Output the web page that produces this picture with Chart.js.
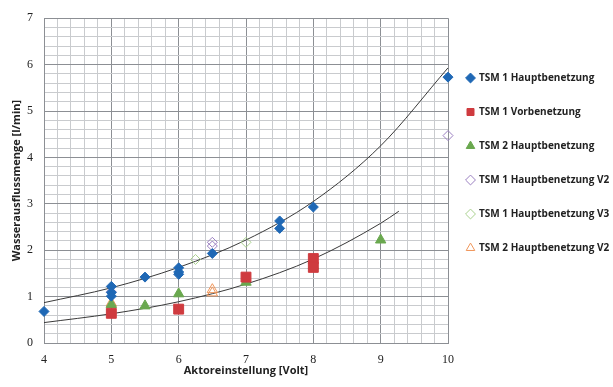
<!DOCTYPE html>
<html>
<head>
<meta charset="utf-8">
<script src="https://cdn.jsdelivr.net/npm/chart.js@4.4.1/dist/chart.umd.min.js"></script>
<style>
  html, body { margin: 0; padding: 0; background: #fff; }
  #wrap { width: 613px; height: 387px; }
</style>
</head>
<body>
<div id="wrap"><canvas id="chart"></canvas></div>
<script>

    // Messwerte (Volt, l/min)
    var tsm1_haupt = [
        {x: 4, y: 0.68}, {x: 5, y: 1.22}, {x: 5, y: 1.09}, {x: 5, y: 1.01},
        {x: 5.5, y: 1.42}, {x: 6, y: 1.62}, {x: 6, y: 1.53}, {x: 6, y: 1.48},
        {x: 6.5, y: 1.93}, {x: 7.5, y: 2.63}, {x: 7.5, y: 2.47}, {x: 8, y: 2.93},
        {x: 10, y: 5.73}
    ];
    var tsm1_vor = [
        {x: 5, y: 0.64}, {x: 6, y: 0.73}, {x: 7, y: 1.42}, {x: 8, y: 1.82}, {x: 8, y: 1.63}
    ];
    var tsm2_haupt = [
        {x: 5, y: 0.83}, {x: 5.5, y: 0.80}, {x: 6, y: 1.06}, {x: 7, y: 1.31},
        {x: 8, y: 1.66}, {x: 9, y: 2.22}
    ];
    var tsm1_haupt_v2 = [
        {x: 5, y: 1.10}, {x: 6.5, y: 2.17}, {x: 6.5, y: 2.09}, {x: 10, y: 4.47}
    ];
    var tsm1_haupt_v3 = [
        {x: 6.25, y: 1.80}, {x: 7, y: 2.17}
    ];
    var tsm2_haupt_v2 = [
        {x: 5, y: 0.86}, {x: 6.5, y: 1.15}, {x: 6.5, y: 1.08}
    ];

    // Trendlinien (exponentiell)
    var trend_oben = [
        {x: 4, y: 0.87}, {x: 5, y: 1.19}, {x: 6, y: 1.63}, {x: 7, y: 2.22},
        {x: 8, y: 3.05}, {x: 9, y: 4.25}, {x: 10, y: 5.93}
    ];
    var trend_unten = [
        {x: 4, y: 0.44}, {x: 5, y: 0.63}, {x: 6, y: 0.89}, {x: 7, y: 1.27},
        {x: 8, y: 1.81}, {x: 9, y: 2.58}, {x: 9.27, y: 2.84}
    ];

    var BLUE = '#1f68b5', RED = '#cf3b3f', GREEN = '#6aa84f',
        PURPLE = '#9a7fc0', LGREEN = '#a9d18e', ORANGE = '#f0965a';

    function isMajor(v) { return Math.abs(v - Math.round(v)) < 1e-6; }

    var config = {
     type: 'scatter',
     data: {
        datasets: [
            { label: 'TSM 1 Hauptbenetzung', data: tsm1_haupt, pointStyle: 'rectRot', clip: false,
              pointRadius: 5, backgroundColor: BLUE, borderColor: BLUE, borderWidth: 1 },
            { label: 'TSM 1 Vorbenetzung', data: tsm1_vor, pointStyle: 'rect', clip: false,
              pointRadius: 7, backgroundColor: RED, borderColor: RED, borderWidth: 1 },
            { label: 'TSM 2 Hauptbenetzung', data: tsm2_haupt, pointStyle: 'triangle', clip: false,
              pointRadius: 6, backgroundColor: GREEN, borderColor: GREEN, borderWidth: 1 },
            { label: 'TSM 1 Hauptbenetzung V2', data: tsm1_haupt_v2, pointStyle: 'rectRot', clip: false,
              pointRadius: 5, backgroundColor: 'rgba(0,0,0,0)', borderColor: PURPLE, borderWidth: 1 },
            { label: 'TSM 1 Hauptbenetzung V3', data: tsm1_haupt_v3, pointStyle: 'rectRot', clip: false,
              pointRadius: 5, backgroundColor: 'rgba(0,0,0,0)', borderColor: LGREEN, borderWidth: 1 },
            { label: 'TSM 2 Hauptbenetzung V2', data: tsm2_haupt_v2, pointStyle: 'triangle', clip: false,
              pointRadius: 6, backgroundColor: 'rgba(0,0,0,0)', borderColor: ORANGE, borderWidth: 1 },
            { label: 'trend1', data: trend_oben, type: 'line', showLine: true,
              borderColor: '#3a3a3a', borderWidth: 1, pointRadius: 0, tension: 0.4,
              cubicInterpolationMode: 'monotone', fill: false },
            { label: 'trend2', data: trend_unten, type: 'line', showLine: true,
              borderColor: '#3a3a3a', borderWidth: 1, pointRadius: 0, tension: 0.4,
              cubicInterpolationMode: 'monotone', fill: false }
        ]
        },
        options: {
            responsive: true,
            maintainAspectRatio: false,
            animation: false,
            layout: { padding: { top: 17, left: 0, right: 0, bottom: 0 } },
            scales: {
                x: {
                    type: 'linear', min: 4, max: 10,
                    afterFit: function(scale) { scale.height = 44; },
                    ticks: {
                        stepSize: 0.2, autoSkip: false, maxRotation: 0, padding: 10,
                        color: '#222', font: { family: 'Liberation Serif', size: 12 },
                        callback: function(v) { return isMajor(v) ? Math.round(v) : ''; }
                    },
                    grid: {
                        drawTicks: false,
                        color: function(c) { return isMajor(c.tick.value) ? '#8c8f94' : '#c9cbce'; },
                        lineWidth: 1
                    },
                    border: { color: '#8c8f94' },
                    title: {
                        display: true, text: 'Aktoreinstellung [Volt]', color: '#222',
                        font: { family: 'Open Sans', size: 11, weight: 'bold' }, padding: { top: 0, bottom: 10 }
                    }
                },
                y: {
                    min: 0, max: 7,
                    afterFit: function(scale) { scale.width = 44; },
                    ticks: {
                        stepSize: 0.2, autoSkip: false, padding: 11,
                        color: '#222', font: { family: 'Liberation Serif', size: 12 },
                        callback: function(v) { return isMajor(v) ? Math.round(v) : ''; }
                    },
                    grid: {
                        drawTicks: false,
                        color: function(c) { return isMajor(c.tick.value) ? '#8c8f94' : '#c9cbce'; },
                        lineWidth: 1
                    },
                    border: { color: '#8c8f94' },
                    title: {
                        display: true, text: 'Wasserausflussmenge [l/min]', color: '#222',
                        font: { family: 'Open Sans', size: 11, weight: 'bold' }, padding: { top: 10, bottom: 0 }
                    }
                }
            },
            plugins: {
                tooltip: { enabled: false },
                legend: {
                    position: 'right',
                    align: 'start',
                    labels: {
                        usePointStyle: true, boxWidth: 7, boxHeight: 7, padding: 24,
                        color: '#222', font: { family: 'Open Sans', size: 10, weight: 'bold' },
                        filter: function(item) { return item.text.indexOf('trend') !== 0; }
                    }
                }
            }
        }
     };

    // Legende: feste Breite, etwas nach unten/links schieben
    var legendPlace = {
        id: 'legendPlace',
        beforeInit: function(chart) {
            var fit = chart.legend.fit;
            chart.legend.fit = function() {
                fit.call(this);
                this.width = 165;
            };
        },
        afterLayout: function(chart) {
            chart.legend.left -= 5;
            chart.legend.top += 32;
        }
    };

    window.onload = function() {
      var ctx = document.getElementById('chart').getContext('2d');
      window.myChart = new Chart(ctx, Object.assign(config, { plugins: [legendPlace] }));
    };

</script>
</body>
</html>
